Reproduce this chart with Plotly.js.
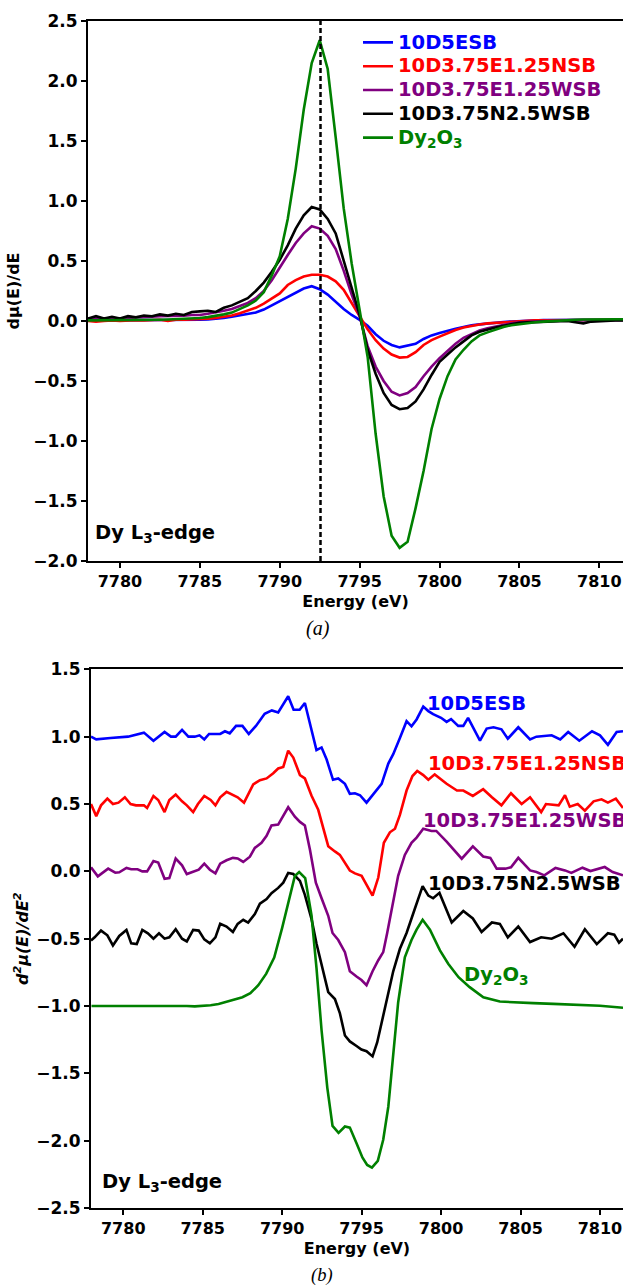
<!DOCTYPE html>
<html>
<head>
<meta charset="utf-8">
<script src="https://cdn.plot.ly/plotly-3.0.1.min.js"></script>
<style>html,body{margin:0;padding:0;background:#fff;}#chart{width:623px;height:1287px;}</style>
</head>
<body>
<div id="chart"></div>
<script>
// ---------- Panel (a): first derivative ----------
const seriesNames = ['10D5ESB', '10D3.75E1.25NSB', '10D3.75E1.25WSB', '10D3.75N2.5WSB', 'Dy<sub>2</sub>O<sub>3</sub>'];
const seriesColors = ['#0000ff', '#ff0000', '#800080', '#000000', '#008000'];
const peakEnergy = 7792.55;

const topE = [7778,7778.5,7779,7779.5,7780,7780.5,7781,7781.5,7782,7782.5,7783,7783.5,7784,7784.5,7785,7785.5,7786,7786.5,7787,7787.5,7788,7788.5,7789,7789.5,7790,7790.5,7791,7791.5,7792,7792.5,7793,7793.5,7794,7794.5,7795,7795.5,7796,7796.5,7797,7797.5,7798,7798.5,7799,7799.5,7800,7800.5,7801,7801.5,7802,7802.5,7803,7803.5,7804,7804.5,7805,7805.5,7806,7806.5,7807,7807.5,7808,7808.5,7809,7809.5,7810,7810.5,7811,7811.5];
const topBlue = [0.005,0.005,0.005,0.004,0.005,0.005,0.006,0.005,0.006,0.006,0.007,0.007,0.008,0.009,0.01,0.012,0.016,0.025,0.035,0.045,0.055,0.07,0.095,0.13,0.16,0.2,0.235,0.27,0.29,0.265,0.22,0.16,0.1,0.05,0.01,-0.04,-0.11,-0.165,-0.2,-0.22,-0.205,-0.19,-0.15,-0.12,-0.1,-0.08,-0.065,-0.05,-0.035,-0.028,-0.02,-0.012,-0.008,-0.004,0.0,0.004,0.006,0.008,0.008,0.01,0.01,0.01,0.01,0.01,0.01,0.01,0.01,0.01];
const topRed = [0.0,-0.006,0.0,0.004,0.0,0.004,0.006,0.004,0.006,0.01,0.0,0.01,0.01,0.012,0.015,0.02,0.025,0.035,0.045,0.065,0.085,0.11,0.145,0.185,0.23,0.3,0.34,0.37,0.385,0.385,0.37,0.33,0.26,0.15,0.04,-0.07,-0.16,-0.23,-0.28,-0.305,-0.3,-0.26,-0.2,-0.16,-0.13,-0.1,-0.075,-0.055,-0.04,-0.03,-0.02,-0.015,-0.01,-0.005,0.0,0.004,0.005,0.006,0.006,0.008,0.01,0.01,0.01,0.01,0.01,0.01,0.01,0.01];
const topPurple = [0.02,0.02,0.025,0.02,0.025,0.025,0.03,0.03,0.035,0.04,0.04,0.045,0.045,0.05,0.05,0.06,0.07,0.085,0.1,0.125,0.15,0.19,0.25,0.34,0.45,0.55,0.65,0.73,0.79,0.77,0.71,0.6,0.42,0.22,0.04,-0.21,-0.38,-0.5,-0.59,-0.62,-0.6,-0.55,-0.46,-0.38,-0.31,-0.25,-0.19,-0.14,-0.11,-0.08,-0.06,-0.045,-0.03,-0.02,-0.01,-0.005,0.0,0.0,0.002,0.004,0.005,0.005,0.005,0.006,0.006,0.006,0.006,0.006];
const topBlack = [0.02,0.04,0.02,0.035,0.02,0.04,0.03,0.045,0.04,0.055,0.045,0.06,0.05,0.075,0.08,0.085,0.075,0.11,0.13,0.16,0.19,0.25,0.32,0.41,0.51,0.63,0.77,0.88,0.95,0.93,0.85,0.73,0.5,0.28,0.05,-0.24,-0.44,-0.6,-0.7,-0.735,-0.725,-0.67,-0.57,-0.45,-0.34,-0.28,-0.22,-0.17,-0.12,-0.09,-0.07,-0.055,-0.04,-0.025,-0.015,-0.012,-0.01,-0.008,-0.005,0.0,0.0,-0.01,-0.02,-0.005,0.0,0.005,0.005,0.005];
const topGreen = [0.005,0.005,0.005,0.005,0.006,0.006,0.007,0.008,0.009,0.01,0.012,0.014,0.017,0.02,0.025,0.032,0.042,0.055,0.07,0.1,0.13,0.17,0.24,0.38,0.54,0.85,1.27,1.76,2.15,2.34,2.1,1.53,0.94,0.48,0.1,-0.3,-0.94,-1.46,-1.79,-1.89,-1.84,-1.56,-1.25,-0.9,-0.65,-0.46,-0.32,-0.24,-0.17,-0.12,-0.095,-0.07,-0.05,-0.035,-0.025,-0.018,-0.01,-0.005,0.0,0.004,0.008,0.01,0.012,0.014,0.015,0.015,0.015,0.015];

// ---------- Panel (b): second derivative (offset curves) ----------
const botBlueE = [7777.97,7778.3,7779.2,7780.3,7781.3,7781.9,7782.6,7783.0,7783.3,7783.7,7784.1,7784.5,7784.8,7785.1,7785.4,7786.1,7786.4,7786.7,7787.1,7787.5,7787.9,7788.35,7788.9,7789.35,7789.75,7790.38,7790.72,7791.1,7791.43,7791.75,7792.16,7792.48,7792.8,7793.2,7793.53,7793.95,7794.26,7794.58,7794.9,7795.31,7795.73,7796.26,7796.68,7796.99,7797.41,7797.83,7798.14,7798.46,7798.88,7799.2,7799.5,7800.0,7800.35,7800.63,7801.08,7801.4,7801.7,7802.45,7802.87,7803.3,7803.8,7804.2,7804.86,7805.6,7806.0,7806.96,7807.5,7808.0,7808.7,7809.5,7810.0,7810.5,7811.05,7811.45];
const botBlue = [1.0,0.98,0.99,1.0,1.03,0.97,1.035,1.0,1.0,1.05,1.0,1.0,1.01,0.98,1.02,1.02,1.04,1.025,1.08,1.08,1.02,1.08,1.17,1.195,1.18,1.3,1.2,1.2,1.25,1.09,0.9,0.92,0.83,0.68,0.69,0.65,0.575,0.58,0.565,0.51,0.57,0.65,0.8,0.87,0.99,1.115,1.077,1.128,1.223,1.19,1.167,1.14,1.11,1.13,1.08,1.08,1.14,0.97,1.06,1.07,1.055,0.985,1.07,0.98,1.0,1.01,0.98,1.035,0.97,1.04,1.01,0.94,1.035,1.04];

const botRedE = [7777.97,7778.3,7778.6,7779.0,7779.35,7779.7,7780.1,7780.46,7780.8,7781.3,7781.5,7781.9,7782.2,7782.6,7782.9,7783.3,7783.7,7784.0,7784.4,7784.7,7785.1,7785.5,7785.8,7786.1,7786.5,7786.9,7787.2,7787.6,7788.18,7788.6,7789.02,7789.44,7789.75,7790.07,7790.38,7790.7,7791.12,7791.43,7791.85,7792.27,7792.58,7792.9,7793.32,7793.63,7794.26,7794.58,7795.0,7795.31,7795.69,7796.05,7796.4,7796.78,7797.1,7797.41,7797.83,7798.2,7798.5,7798.88,7799.2,7799.6,7800.35,7801.0,7801.4,7802.0,7802.65,7803.2,7803.8,7804.4,7805.07,7805.6,7806.3,7806.6,7807.4,7807.8,7808.1,7808.6,7809.05,7809.6,7810.1,7810.5,7811.0,7811.45];
const botRed = [0.5,0.41,0.49,0.54,0.5,0.51,0.55,0.5,0.49,0.49,0.47,0.56,0.53,0.44,0.53,0.57,0.52,0.49,0.44,0.5,0.56,0.53,0.49,0.55,0.59,0.565,0.55,0.51,0.646,0.677,0.69,0.728,0.764,0.775,0.896,0.845,0.715,0.69,0.561,0.457,0.316,0.187,0.148,0.122,0.006,-0.015,-0.033,-0.102,-0.18,-0.046,0.212,0.29,0.316,0.419,0.6,0.708,0.745,0.715,0.68,0.72,0.65,0.6,0.6,0.56,0.61,0.55,0.49,0.58,0.5,0.55,0.44,0.5,0.49,0.565,0.48,0.5,0.45,0.52,0.535,0.51,0.54,0.47];

const botPurpleE = [7777.97,7778.4,7779.05,7779.5,7779.75,7780.2,7780.5,7780.9,7781.2,7781.5,7781.9,7782.2,7782.6,7782.9,7783.3,7783.7,7784.0,7784.4,7784.75,7785.1,7785.45,7785.8,7786.1,7786.5,7786.9,7787.2,7787.55,7787.97,7788.28,7788.7,7789.02,7789.33,7789.75,7790.38,7790.8,7791.12,7791.43,7791.75,7792.12,7792.48,7792.9,7793.17,7793.53,7793.95,7794.26,7794.68,7794.99,7795.31,7795.69,7796.05,7796.36,7796.61,7796.95,7797.3,7797.72,7798.14,7798.46,7798.88,7799.4,7799.7,7800.35,7801.3,7802.0,7802.65,7803.1,7803.5,7804.05,7804.4,7804.86,7805.6,7806.0,7806.5,7807.2,7807.8,7808.2,7808.9,7809.4,7810.3,7810.8,7811.45];
const botPurple = [0.03,-0.037,0.02,-0.01,-0.007,0.025,0.015,0.015,0.0,0.0,0.077,0.065,-0.055,-0.05,0.095,0.045,-0.02,0.0,0.012,0.057,0.012,-0.015,0.057,0.082,0.1,0.096,0.07,0.109,0.174,0.212,0.264,0.341,0.347,0.476,0.406,0.367,0.341,0.161,-0.084,-0.2,-0.33,-0.458,-0.51,-0.6,-0.742,-0.781,-0.807,-0.846,-0.742,-0.66,-0.6,-0.458,-0.25,-0.033,0.122,0.212,0.251,0.316,0.3,0.3,0.22,0.094,0.186,0.11,0.1,0.02,0.02,0.03,0.1,0.007,-0.005,-0.03,0.025,0.007,-0.012,0.027,0.002,0.032,-0.005,-0.03];

const botBlackE = [7777.97,7778.2,7778.6,7779.0,7779.35,7779.75,7780.2,7780.5,7780.85,7781.2,7781.55,7781.9,7782.25,7782.6,7782.9,7783.3,7783.7,7784.0,7784.4,7784.75,7785.1,7785.45,7785.8,7786.1,7786.5,7786.9,7787.2,7787.55,7787.86,7788.28,7788.6,7789.02,7789.33,7789.75,7790.07,7790.38,7790.7,7791.12,7791.43,7791.85,7792.16,7792.58,7792.9,7793.32,7793.63,7793.95,7794.26,7794.68,7794.99,7795.31,7795.69,7795.98,7796.26,7796.57,7796.99,7797.41,7797.83,7798.35,7798.84,7799.2,7799.5,7799.9,7800.67,7801.4,7802.0,7802.55,7803.2,7803.7,7804.2,7804.86,7805.6,7806.3,7806.96,7807.7,7808.4,7809.05,7809.8,7810.5,7810.9,7811.2,7811.45];
const botBlack = [-0.513,-0.49,-0.44,-0.475,-0.55,-0.48,-0.435,-0.535,-0.54,-0.435,-0.46,-0.5,-0.46,-0.5,-0.49,-0.43,-0.5,-0.52,-0.435,-0.44,-0.505,-0.535,-0.49,-0.39,-0.41,-0.45,-0.39,-0.36,-0.381,-0.317,-0.24,-0.206,-0.162,-0.123,-0.084,-0.012,-0.02,-0.071,-0.175,-0.355,-0.536,-0.742,-0.897,-0.948,-1.052,-1.219,-1.263,-1.297,-1.323,-1.336,-1.374,-1.271,-1.129,-0.962,-0.742,-0.575,-0.458,-0.278,-0.11,-0.18,-0.2,-0.16,-0.38,-0.295,-0.35,-0.45,-0.38,-0.39,-0.49,-0.41,-0.525,-0.49,-0.5,-0.46,-0.56,-0.43,-0.54,-0.46,-0.47,-0.53,-0.5];

const botGreenE = [7778,7779,7780,7781,7782,7783,7784,7784.5,7785,7785.5,7786,7786.5,7787,7787.5,7788,7788.5,7789,7789.5,7790,7790.4,7790.8,7791.07,7791.45,7791.85,7792.16,7792.48,7792.84,7793.17,7793.55,7793.95,7794.26,7794.68,7795.05,7795.35,7795.65,7796.02,7796.36,7796.68,7796.99,7797.3,7797.72,7798.14,7798.46,7798.84,7799.3,7799.93,7800.45,7801.1,7801.8,7802.66,7803.7,7804.76,7805.8,7807.06,7808.9,7810.0,7811.45];
const botGreen = [-1.0,-1.0,-1.0,-1.0,-0.998,-0.997,-1.0,-1.003,-1.0,-0.995,-0.985,-0.97,-0.955,-0.935,-0.905,-0.845,-0.76,-0.64,-0.42,-0.22,-0.035,-0.005,-0.05,-0.33,-0.716,-1.18,-1.606,-1.89,-1.942,-1.895,-1.903,-2.019,-2.125,-2.18,-2.2,-2.15,-1.993,-1.748,-1.361,-0.974,-0.639,-0.51,-0.433,-0.36,-0.433,-0.587,-0.686,-0.786,-0.86,-0.935,-0.967,-0.975,-0.979,-0.984,-0.99,-0.998,-1.013];

const botLabels = ['10D5ESB', '10D3.75E1.25NSB', '10D3.75E1.25WSB', '10D3.75N2.5WSB', 'Dy<sub>2</sub>O<sub>3</sub>'];
const botLabelX = [7799.0, 7799.06, 7798.74, 7799.06, 7801.32];
const botLabelY = [1.25, 0.80, 0.38, -0.09, -0.77];

const FONT = 'DejaVu Sans';
const topY = [topBlue, topRed, topPurple, topBlack, topGreen];
const botX = [botBlueE, botRedE, botPurpleE, botBlackE, botGreenE];
const botY = [botBlue, botRed, botPurple, botBlack, botGreen];

const traces = [];
for (let i = 0; i < 5; i++) {
  traces.push({
    x: topE, y: topY[i], xaxis: 'x', yaxis: 'y', mode: 'lines',
    line: {color: seriesColors[i], width: 2.6},
    name: '<span style="color:' + seriesColors[i] + ';font-size:19.5px">' + seriesNames[i] + '</span>',
    showlegend: true
  });
}
for (let i = 0; i < 5; i++) {
  traces.push({
    x: botX[i], y: botY[i], xaxis: 'x2', yaxis: 'y2', mode: 'lines',
    line: {color: seriesColors[i], width: 2.6},
    name: seriesNames[i], showlegend: false
  });
}

const xTickFont = {family: FONT, size: 16, color: '#000', weight: 'bold'};
const yTickFont = {family: FONT, size: 17, color: '#000', weight: 'bold'};
function xAx(domain, range, anchor, standoff) {
  return {
    domain: domain, range: range, anchor: anchor,
    showline: true, linecolor: '#000', linewidth: 2, mirror: true,
    showgrid: false, zeroline: false,
    ticks: 'outside', ticklen: 5, tickwidth: 2, tickcolor: '#000',
    tick0: 7780, dtick: 5, tickfont: xTickFont,
    title: {text: 'Energy (eV)', font: {family: FONT, size: 16, color: '#000', weight: 'bold'}, standoff: standoff},
    automargin: false
  };
}
function yAx(domain, range, anchor, title, tfont, standoff) {
  return {
    domain: domain, range: range, anchor: anchor,
    showline: true, linecolor: '#000', linewidth: 2, mirror: false,
    showgrid: false, zeroline: false,
    ticks: 'outside', ticklen: 5, tickwidth: 2, tickcolor: '#000',
    dtick: 0.5, tickformat: '.1f', tickfont: yTickFont,
    title: {text: title, font: tfont, standoff: standoff},
    automargin: false
  };
}

const layout = {
  width: 623, height: 1287,
  margin: {l: 88, r: 0, t: 21, b: 79},
  paper_bgcolor: '#fff', plot_bgcolor: '#fff',
  font: {family: FONT, color: '#000'},
  xaxis: xAx([0, 1], [7778, 7811.48], 'y', 6),
  yaxis: yAx([0.5451, 1], [-2, 2.5], 'x', 'dμ(E)/dE', {family: FONT, size: 16, color: '#000', weight: 'bold'}, 10),
  xaxis2: xAx([0.0056, 1], [7777.97, 7811.45], 'y2', 6),
  yaxis2: yAx([0, 0.4538], [-2.5, 1.5], 'x2', 'd<sup>2</sup>μ(E)/dE<sup>2</sup>', {family: FONT, size: 16, color: '#000', weight: 'bold', style: 'italic'}, 4),
  showlegend: true,
  legend: {
    x: 0.5047, y: 0.9962, xanchor: 'left', yanchor: 'top',
    bgcolor: 'rgba(0,0,0,0)', borderwidth: 0,
    font: {family: FONT, size: 16, weight: 'bold'},
    tracegroupgap: 0
  },
  shapes: [{
    type: 'line', xref: 'x', yref: 'y domain', x0: peakEnergy, x1: peakEnergy, y0: 0, y1: 1,
    line: {color: '#000', width: 2.5, dash: '5px,3px'}
  }],
  annotations: []
};

const lblFont = (c) => ({family: FONT, size: 19.5, color: c, weight: 'bold'});
for (let i = 0; i < 5; i++) {
  layout.annotations.push({
    xref: 'x2', yref: 'y2', x: botLabelX[i], y: botLabelY[i], text: botLabels[i],
    xanchor: 'left', yanchor: 'middle', showarrow: false, font: lblFont(seriesColors[i])
  });
}
layout.annotations.push({xref: 'x', yref: 'y', x: 7778.34, y: -1.77, text: 'Dy L<sub>3</sub>-edge',
  xanchor: 'left', yanchor: 'middle', showarrow: false, font: lblFont('#000')});
layout.annotations.push({xref: 'x2', yref: 'y2', x: 7778.56, y: -2.31, text: 'Dy L<sub>3</sub>-edge',
  xanchor: 'left', yanchor: 'middle', showarrow: false, font: lblFont('#000')});
layout.annotations.push({xref: 'paper', yref: 'paper', x: 0.4299, y: 0.4886, text: '(a)',
  xanchor: 'center', yanchor: 'middle', showarrow: false, font: {family: 'Liberation Serif', size: 20, color: '#000', style: 'italic'}});
layout.annotations.push({xref: 'paper', yref: 'paper', x: 0.4374, y: -0.0565, text: '(b)',
  xanchor: 'center', yanchor: 'middle', showarrow: false, font: {family: 'Liberation Serif', size: 18.5, color: '#000', style: 'italic'}});

Plotly.newPlot('chart', traces, layout, {staticPlot: true, displayModeBar: false});
</script>
</body>
</html>
